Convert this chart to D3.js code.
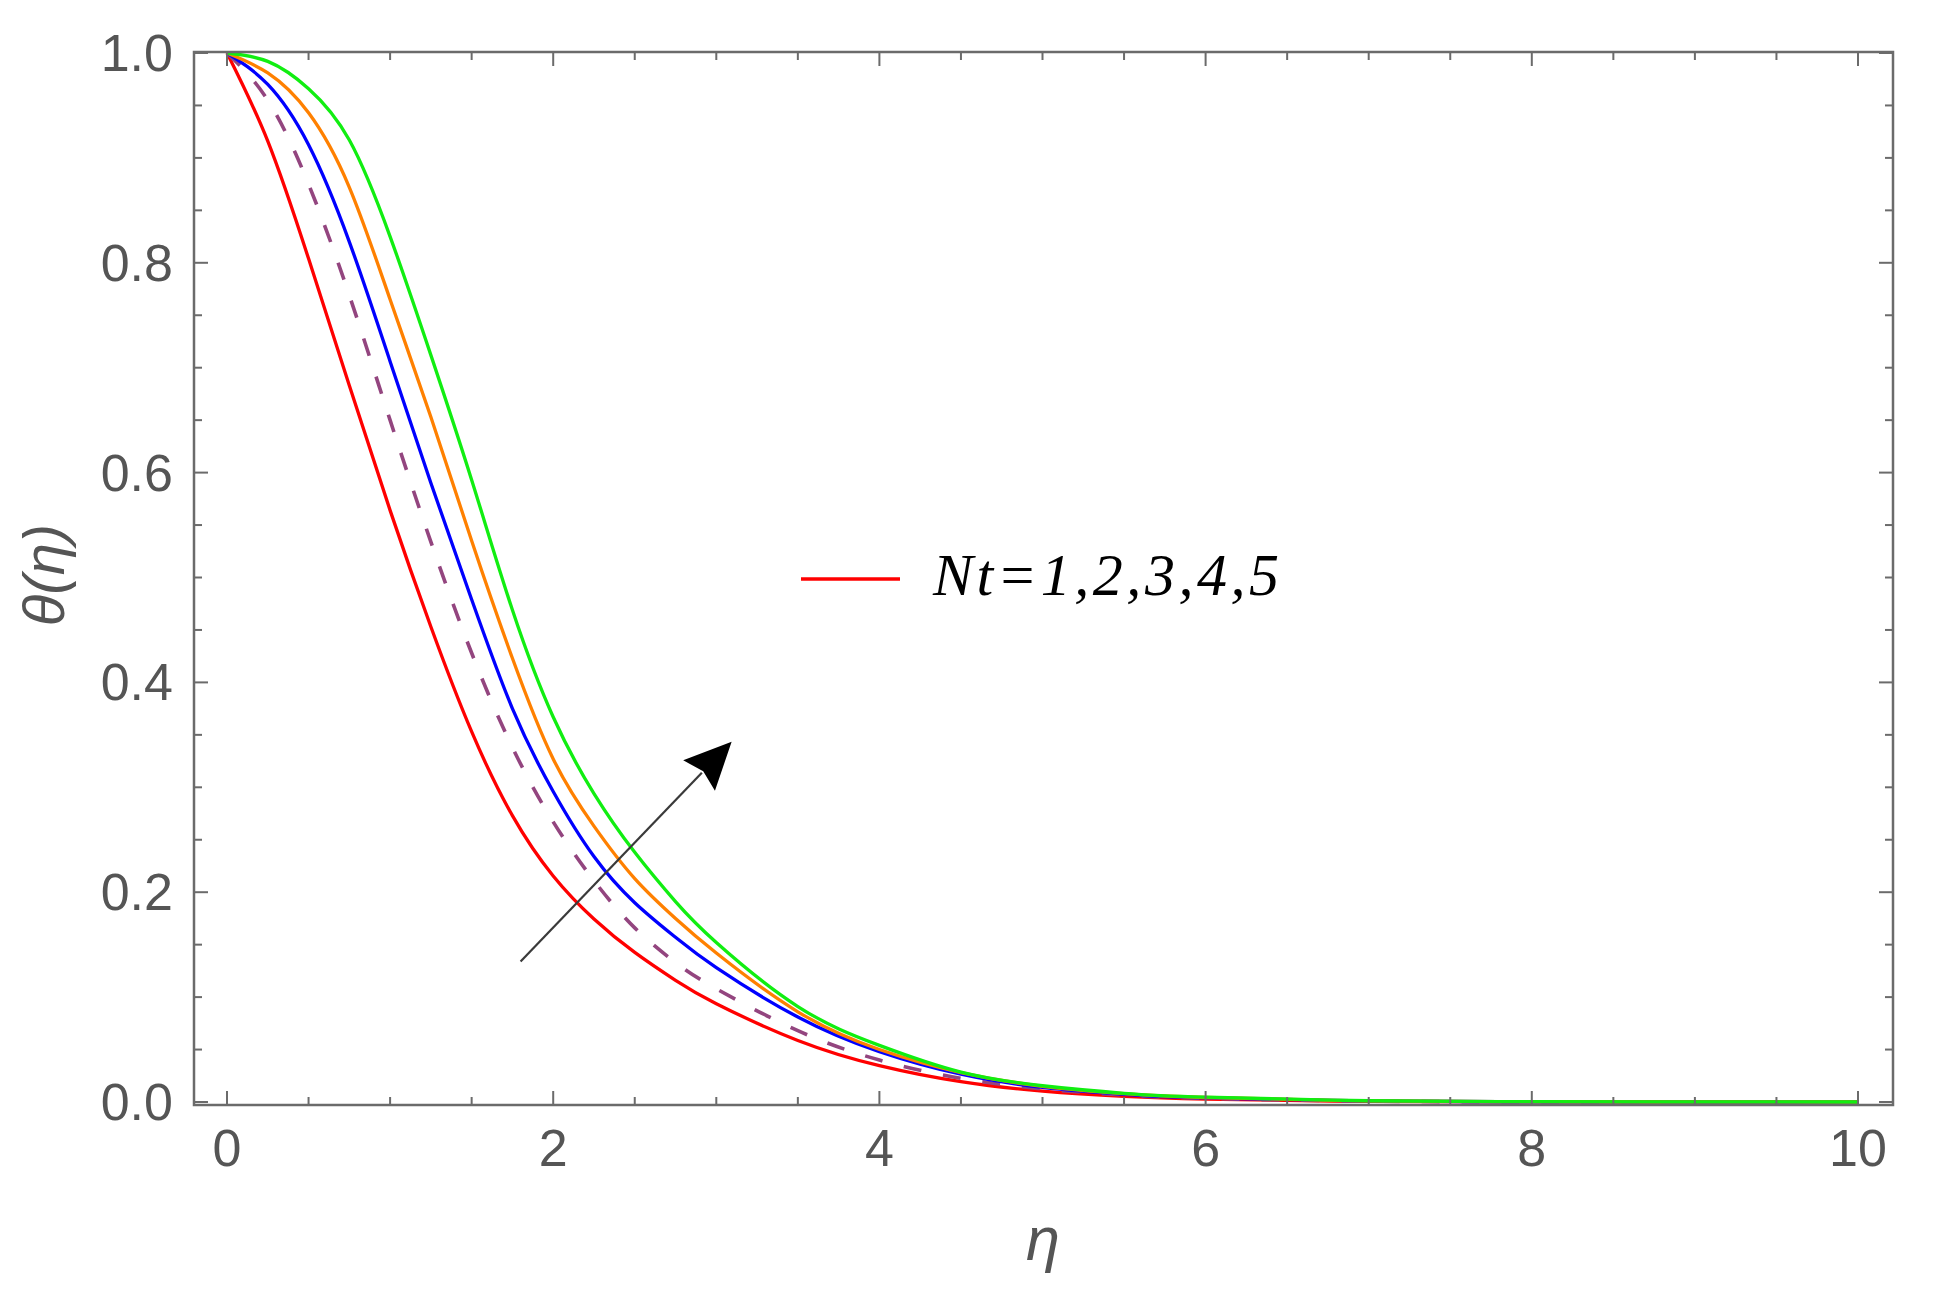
<!DOCTYPE html>
<html><head><meta charset="utf-8">
<script src="https://cdn.jsdelivr.net/npm/d3@7"></script>
<style>body{margin:0;background:#fff}svg{display:block}</style>
</head><body><svg id="c" width="1938" height="1289"></svg>
<script>
// ---- data ----
const eta = [0,0.25,0.5,0.75,1,1.25,1.5,1.75,2,2.25,2.5,2.75,3,3.5,4,4.5,5,5.5,6,7,8,9,10];
const nt1 = [1,0.916,0.804,0.683,0.564,0.453,0.353,0.273,0.2155,0.1745,0.1426,0.116,0.0937,0.0587,0.0347,0.0194,0.0104,0.0054,0.0028,0.0006,0.0001,0,0];
const nt2 = [1,0.955,0.875,0.769,0.650,0.534,0.428,0.338,0.267,0.211,0.166,0.133,0.108,0.068,0.040,0.0225,0.0125,0.0066,0.0034,0.0008,0.0002,0,0];
const nt3 = [1,0.970,0.9125,0.820,0.706,0.590,0.479,0.375,0.296,0.234,0.190,0.157,0.128,0.081,0.048,0.0265,0.014,0.0074,0.0039,0.001,0.0002,0,0];
const nt4 = [1,0.981,0.943,0.872,0.765,0.653,0.535,0.423,0.327,0.263,0.213,0.175,0.142,0.086,0.050,0.028,0.015,0.008,0.0043,0.0011,0.0003,0.0001,0];
const nt5 = [1,0.992,0.966,0.917,0.825,0.712,0.593,0.469,0.367,0.294,0.238,0.191,0.152,0.091,0.054,0.0285,0.0155,0.0083,0.0046,0.0012,0.0003,0.0001,0];
const seriesNames = ["Nt=1","Nt=2","Nt=3","Nt=4","Nt=5"];
const xTicks = [0,2,4,6,8,10];
const yTicks = [0,0.2,0.4,0.6,0.8,1.0];
const legendLabel = "Nt=1,2,3,4,5";
const arrowFrom = [1.8, 0.134];
const arrowTo = [3.094, 0.3435];

// ---- layout ----
const frame = {l:194, r:1893, t:52, b:1105};
const x = d3.scaleLinear().domain([0,10]).range([227,1858]);
const y = d3.scaleLinear().domain([0,1]).range([1102,53]);
const svg = d3.select("#c");
const axisColor = "#6b6b6b", textColor = "#555";

svg.append("defs").append("clipPath").attr("id","clip")
  .append("rect").attr("x",frame.l).attr("y",frame.t).attr("width",frame.r-frame.l).attr("height",frame.b-frame.t);

// curves
const styles = [
  {c:"#ff0000", dash:null, w:3.3},
  {c:"#93457f", dash:"18,22", w:3.6},
  {c:"#0000ff", dash:null, w:3.3},
  {c:"#ff8000", dash:null, w:3.3},
  {c:"#11ee11", dash:null, w:3.3}
];
const all = [nt1,nt2,nt3,nt4,nt5];
const line = d3.line().x(d=>x(d[0])).y(d=>y(d[1])).curve(d3.curveNatural);
const g = svg.append("g").attr("clip-path","url(#clip)");
all.forEach((s,i)=>{
  g.append("path").datum(eta.map((e,j)=>[e,s[j]]))
   .attr("d",line).attr("fill","none")
   .attr("stroke",styles[i].c).attr("stroke-width",styles[i].w)
   .attr("stroke-dasharray",styles[i].dash);
});

// frame
svg.append("rect").attr("x",frame.l).attr("y",frame.t).attr("width",frame.r-frame.l).attr("height",frame.b-frame.t)
  .attr("fill","none").attr("stroke",axisColor).attr("stroke-width",2.5);

// ticks (inside, all four sides)
const tg = svg.append("g").attr("stroke",axisColor).attr("stroke-width",2);
d3.range(0,10.01,0.5).forEach(v=>{
  const major = Math.abs(v/2-Math.round(v/2))<1e-6;
  const L = major?14:8;
  tg.append("line").attr("x1",x(v)).attr("x2",x(v)).attr("y1",frame.b).attr("y2",frame.b-L);
  tg.append("line").attr("x1",x(v)).attr("x2",x(v)).attr("y1",frame.t).attr("y2",frame.t+L);
});
d3.range(0,1.001,0.05).forEach(v=>{
  const major = Math.abs(v/0.2-Math.round(v/0.2))<1e-6;
  const L = major?14:8;
  tg.append("line").attr("y1",y(v)).attr("y2",y(v)).attr("x1",frame.l).attr("x2",frame.l+L);
  tg.append("line").attr("y1",y(v)).attr("y2",y(v)).attr("x1",frame.r).attr("x2",frame.r-L);
});

// tick labels
svg.append("g").selectAll("text").data(xTicks).join("text")
  .attr("x",d=>x(d)).attr("y",1166).attr("text-anchor","middle")
  .attr("font-family","'Liberation Sans', Arial, sans-serif").attr("font-size",52)
  .attr("fill",textColor).text(d=>d3.format("d")(d));
svg.append("g").selectAll("text").data(yTicks).join("text")
  .attr("x",173).attr("y",d=>y(d)+18).attr("text-anchor","end")
  .attr("font-family","'Liberation Sans', Arial, sans-serif").attr("font-size",52)
  .attr("fill",textColor).text(d=>d3.format(".1f")(d));

// axis titles
svg.append("text").attr("x",1043).attr("y",1260).attr("text-anchor","middle")
  .attr("font-family","'Liberation Sans', Arial, sans-serif").attr("font-style","italic")
  .attr("font-size",61).attr("fill",textColor).text("η");
svg.append("text").attr("transform","translate(64,575) rotate(-90)").attr("text-anchor","middle")
  .attr("font-family","'Liberation Sans', Arial, sans-serif").attr("font-style","italic")
  .attr("font-size",58).attr("fill",textColor).text("θ(η)");

// legend
svg.append("line").attr("x1",801).attr("x2",900).attr("y1",579).attr("y2",579)
  .attr("stroke","#ff0000").attr("stroke-width",3.6);
svg.append("text").attr("x",933).attr("y",595)
  .attr("font-family","'Liberation Serif', 'Times New Roman', serif").attr("font-style","italic")
  .attr("font-size",60).attr("fill","#000")
  .attr("textLength",346).attr("lengthAdjust","spacing").text(legendLabel);

// arrow annotation
const x0 = x(arrowFrom[0]), y0 = y(arrowFrom[1]), x1 = x(arrowTo[0]), y1 = y(arrowTo[1]);
const ang = Math.atan2(y1-y0, x1-x0), headL = 47, headW = 22;
const bx = x1 - headL*Math.cos(ang), by = y1 - headL*Math.sin(ang);
svg.append("line").attr("x1",x0).attr("y1",y0).attr("x2",bx+4*Math.cos(ang)).attr("y2",by+4*Math.sin(ang))
  .attr("stroke","#3a3a3a").attr("stroke-width",2.2);
const px = -Math.sin(ang), py = Math.cos(ang);
svg.append("path")
  .attr("d",`M${x1},${y1} L${bx+headW*px},${by+headW*py} L${bx+6*Math.cos(ang)},${by+6*Math.sin(ang)} L${bx-headW*px},${by-headW*py} Z`)
  .attr("fill","#000");
</script></body></html>
